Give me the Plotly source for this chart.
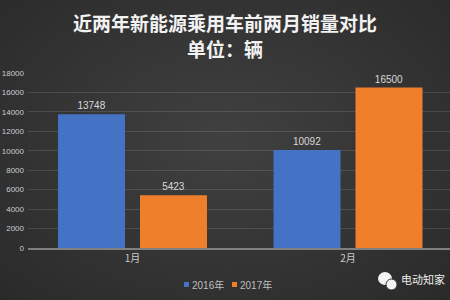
import plotly.graph_objects as go

categories = ["1月", "2月"]
series_names = ["2016年", "2017年"]
series_colors = ["#4472C4", "#F07F2C"]
sales_2016 = [13748, 10092]
sales_2017 = [5423, 16500]
y_ticks = [0, 2000, 4000, 6000, 8000, 10000, 12000, 14000, 16000, 18000]

W, H = 450, 300
ML, MR, MT, MB = 28, 0, 73, 52
PW, PH = W - ML - MR, H - MT - MB
UNIT = 215.5          # pixels per category
C0 = 132.5            # pixel centre of first category
x_lo = -(C0 - ML) / UNIT
x_hi = x_lo + PW / UNIT

def px(x):
    return (x - ML) / PW

def py(y):
    return (H - MB - y) / PH

fig = go.Figure()
for name, vals, col in zip(series_names, [sales_2016, sales_2017], series_colors):
    fig.add_trace(go.Bar(
        x=categories, y=vals, name=name,
        marker=dict(color=col, line=dict(width=0)),
        text=[str(v) for v in vals], textposition="outside",
        textfont=dict(color="#d9d9d9", size=10, family="Liberation Sans, Arial"),
        cliponaxis=False, showlegend=False,
    ))

shapes = []
# radial-ish background vignette
steps = 24
for i in range(steps):
    f = 1 - i / steps
    rx, ry = 340 * f, 240 * f
    cx, cy = 225, 140
    shapes.append(dict(
        type="circle", xref="paper", yref="paper", layer="below",
        x0=px(cx - rx), x1=px(cx + rx), y0=py(cy + ry), y1=py(cy - ry),
        fillcolor="rgba(255,255,255,0.008)", line=dict(width=0),
    ))
# wechat-like icon
shapes.append(dict(type="circle", xref="paper", yref="paper",
                   x0=px(378), x1=px(392), y0=py(285), y1=py(272),
                   fillcolor="#f2f2f2", line=dict(width=0)))
shapes.append(dict(type="circle", xref="paper", yref="paper",
                   x0=px(386), x1=px(397), y0=py(290), y1=py(279),
                   fillcolor="#f2f2f2", line=dict(color="#2e2e2e", width=1)))

# custom legend (small squares + text)
legend_x = [184, 232]
for name, col, lx in zip(series_names, series_colors, legend_x):
    shapes.append(dict(type="rect", xref="paper", yref="paper",
                       x0=px(lx), x1=px(lx + 5), y0=py(287), y1=py(282),
                       fillcolor=col, line=dict(width=0)))

annotations = [
    dict(text="<b>近两年新能源乘用车前两月销量对比</b>", xref="paper", yref="paper",
         x=px(225), y=py(22), showarrow=False, xanchor="center", yanchor="middle",
         font=dict(size=19, color="#f2f2f2", family="Noto Sans CJK SC")),
    dict(text="<b>单位：辆</b>", xref="paper", yref="paper",
         x=px(225), y=py(49), showarrow=False, xanchor="center", yanchor="middle",
         font=dict(size=19, color="#f2f2f2", family="Noto Sans CJK SC")),
    dict(text="电动知家", xref="paper", yref="paper",
         x=px(399), y=py(279), showarrow=False, xanchor="left", yanchor="middle",
         font=dict(size=11, color="#eeeeee", family="Noto Sans CJK SC")),
]
for name, lx in zip(series_names, legend_x):
    annotations.append(dict(text=name, xref="paper", yref="paper",
                            x=px(lx + 6), y=py(284.5), showarrow=False,
                            xanchor="left", yanchor="middle",
                            font=dict(size=10, color="#bfbfbf", family="Liberation Sans, Noto Sans CJK SC")))

fig.update_layout(
    width=W, height=H,
    margin=dict(l=ML, r=MR, t=MT, b=MB, pad=0),
    paper_bgcolor="#282828", plot_bgcolor="rgba(0,0,0,0)",
    barmode="group", bargap=0.239, bargroupgap=0.183,
    showlegend=False,
    xaxis=dict(range=[x_lo, x_hi], showgrid=False, showline=True,
               linecolor="#808080", linewidth=2, ticks="", automargin=False,
               tickfont=dict(size=10, color="#cccccc", family="Noto Sans CJK SC"),
               fixedrange=True),
    yaxis=dict(range=[0, 18000], tickvals=y_ticks, tickformat="d", showgrid=True,
               gridcolor="rgba(255,255,255,0.12)", gridwidth=1, zeroline=False,
               showline=False, ticks="", ticklabelstandoff=3, automargin=False,
               tickfont=dict(size=8, color="#cccccc", family="Liberation Sans, Arial")),
    shapes=shapes, annotations=annotations,
    font=dict(family="Noto Sans CJK SC"),
)

fig.write_html("out.html")
